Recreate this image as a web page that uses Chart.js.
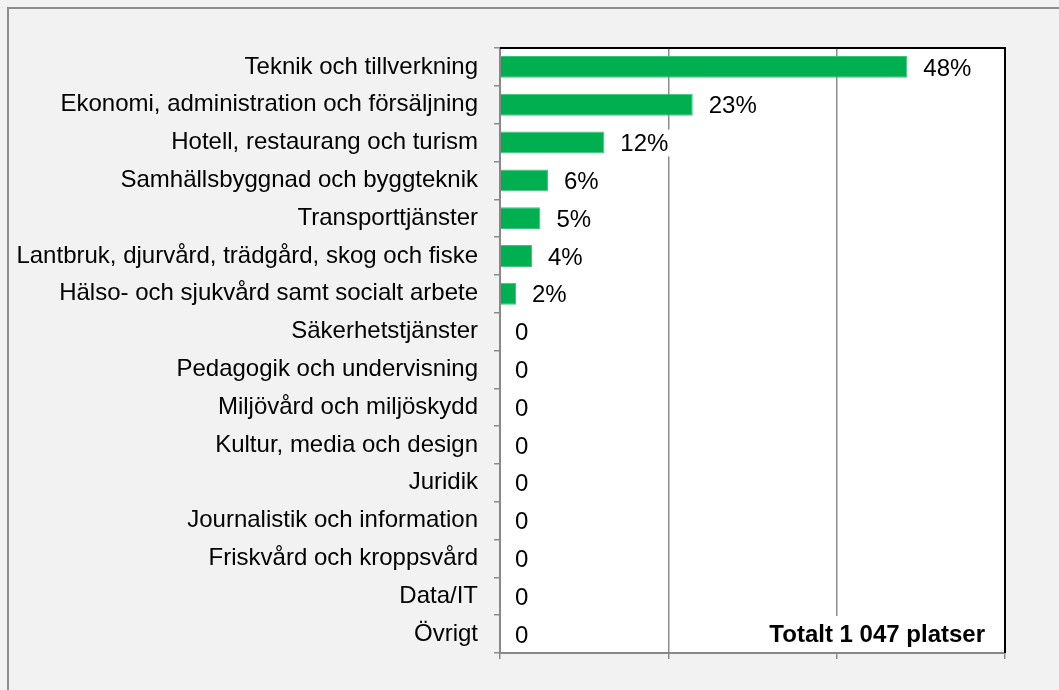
<!DOCTYPE html>
<html>
<head>
<meta charset="utf-8">
<script src="https://cdn.jsdelivr.net/npm/chart.js@4/dist/chart.umd.min.js"></script>
<style>
html,body{margin:0;padding:0;background:#f2f2f2;}
canvas{display:block;}
</style>
</head>
<body>
<canvas id="c" width="1059" height="690"></canvas>
<script>
const categories = [
  "Teknik och tillverkning",
  "Ekonomi, administration och försäljning",
  "Hotell, restaurang och turism",
  "Samhällsbyggnad och byggteknik",
  "Transporttjänster",
  "Lantbruk, djurvård, trädgård, skog och fiske",
  "Hälso- och sjukvård samt socialt arbete",
  "Säkerhetstjänster",
  "Pedagogik och undervisning",
  "Miljövård och miljöskydd",
  "Kultur, media och design",
  "Juridik",
  "Journalistik och information",
  "Friskvård och kroppsvård",
  "Data/IT",
  "Övrigt"
];
const shares = [0.484, 0.229, 0.124, 0.057, 0.048, 0.038, 0.019, 0, 0, 0, 0, 0, 0, 0, 0, 0];
const valueLabels = ["48%", "23%", "12%", "6%", "5%", "4%", "2%", "0", "0", "0", "0", "0", "0", "0", "0", "0"];
const xTicks = [0, 0.2, 0.4, 0.6];
const totalNote = "Totalt 1 047 platser";

const FONT = "'Liberation Sans', Arial, sans-serif";
const FSIZE = 24;

const decor = {
  id: 'decor',
  beforeDraw(chart) {
    const ctx = chart.ctx, a = chart.chartArea;
    ctx.save();
    ctx.fillStyle = '#f2f2f2';
    ctx.fillRect(0, 0, chart.width, chart.height);
    ctx.strokeStyle = '#8c8c8c';
    ctx.lineWidth = 2;
    ctx.beginPath();
    ctx.moveTo(8, chart.height);
    ctx.lineTo(8, 8);
    ctx.lineTo(chart.width, 8);
    ctx.stroke();
    ctx.fillStyle = '#ffffff';
    ctx.fillRect(a.left, a.top, a.right - a.left, a.bottom - a.top);
    ctx.restore();
  },
  afterDatasetsDraw(chart) {
    const ctx = chart.ctx, a = chart.chartArea;
    const meta = chart.getDatasetMeta(0);
    ctx.save();
    ctx.font = FSIZE + 'px ' + FONT;
    ctx.textBaseline = 'middle';
    ctx.textAlign = 'left';
    meta.data.forEach((bar, i) => {
      const txt = valueLabels[i];
      const x0 = shares[i] > 0 ? bar.x + 16 : a.left + 15;
      const w = ctx.measureText(txt).width;
      ctx.fillStyle = '#ffffff';
      ctx.fillRect(x0 - 6, bar.y - 13, w + 12, 27);
      ctx.fillStyle = '#000000';
      ctx.fillText(txt, x0, bar.y + 2);
    });
    ctx.font = 'bold ' + FSIZE + 'px ' + FONT;
    ctx.textAlign = 'right';
    const last = meta.data[meta.data.length - 1];
    const tw = ctx.measureText(totalNote).width;
    const rx = a.right - 20;
    ctx.fillStyle = '#ffffff';
    ctx.fillRect(rx - tw - 6, last.y - 18, tw + 12, 36);
    ctx.fillStyle = '#000000';
    ctx.fillText(totalNote, rx, last.y + 1);
    ctx.restore();
  },
  afterDraw(chart) {
    const ctx = chart.ctx, a = chart.chartArea;
    ctx.save();
    ctx.lineWidth = 2;
    ctx.strokeStyle = '#888888';
    ctx.beginPath();
    ctx.moveTo(a.left, a.top);
    ctx.lineTo(a.left, a.bottom);
    ctx.lineTo(a.right, a.bottom);
    ctx.stroke();
    ctx.strokeStyle = '#000000';
    ctx.beginPath();
    ctx.moveTo(a.left, a.top);
    ctx.lineTo(a.right, a.top);
    ctx.lineTo(a.right, a.bottom);
    ctx.stroke();
    ctx.restore();
  }
};

new Chart(document.getElementById('c'), {
  type: 'bar',
  data: {
    labels: categories,
    datasets: [{
      data: shares,
      backgroundColor: '#00b050',
      borderColor: '#3cc47a',
      borderWidth: 1,
      barPercentage: 0.58,
      categoryPercentage: 1.0
    }]
  },
  options: {
    indexAxis: 'y',
    responsive: false,
    animation: false,
    devicePixelRatio: 1,
    layout: { padding: { left: 0, top: 48, right: 54, bottom: 0 } },
    plugins: { legend: { display: false }, tooltip: { enabled: false } },
    scales: {
      x: {
        min: xTicks[0],
        max: xTicks[xTicks.length - 1],
        afterBuildTicks(scale) { scale.ticks = xTicks.map(v => ({ value: v })); },
        afterFit(scale) { scale.height = 37; },
        ticks: { display: false },
        grid: { color: '#8c8c8c', lineWidth: 1.5, tickLength: 6, drawTicks: true },
        border: { display: false }
      },
      y: {
        afterFit(scale) { scale.width = 500; },
        ticks: {
          color: '#000000',
          font: { family: FONT, size: FSIZE },
          padding: 16,
          autoSkip: false
        },
        grid: { drawOnChartArea: false, drawTicks: true, tickLength: 6, color: '#8c8c8c', lineWidth: 1.5, offset: true },
        border: { display: false }
      }
    }
  },
  plugins: [decor]
});
</script>
</body>
</html>
